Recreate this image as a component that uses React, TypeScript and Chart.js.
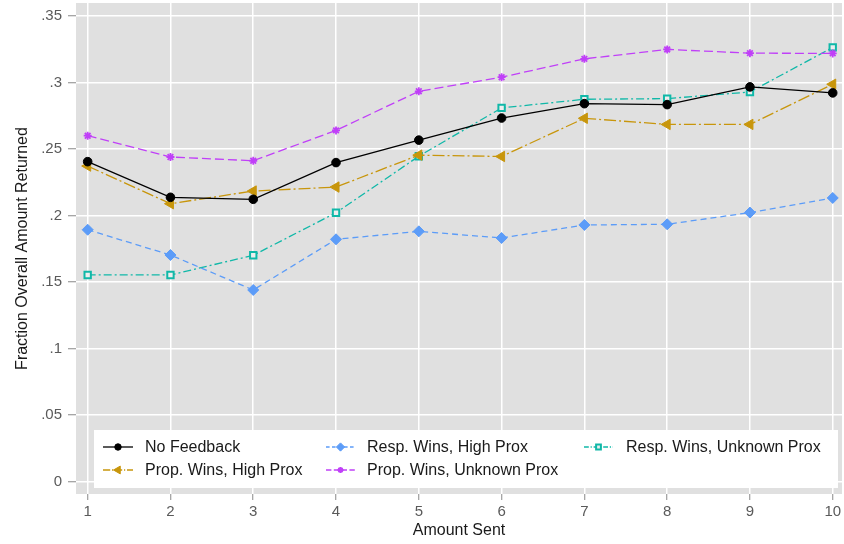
import React, { useEffect, useRef } from "react";
import { Chart, registerables } from "chart.js";
import { drawPoint } from "chart.js/helpers";

Chart.register(...registerables);

const amountSent = [1, 2, 3, 4, 5, 6, 7, 8, 9, 10];
const noFeedback = [0.2405, 0.2137, 0.2122, 0.2398, 0.2567, 0.2733, 0.2841, 0.2834, 0.2967, 0.2922];
const propWinsHighProx = [0.2372, 0.2089, 0.2184, 0.2214, 0.2454, 0.2444, 0.2731, 0.2685, 0.2685, 0.2987];
const respWinsHighProx = [0.1893, 0.1703, 0.144, 0.1821, 0.1881, 0.1831, 0.1929, 0.1934, 0.2022, 0.2132];
const propWinsUnknownProx = [0.26, 0.244, 0.2412, 0.264, 0.2934, 0.304, 0.3178, 0.3249, 0.3221, 0.3219];
const respWinsUnknownProx = [0.1553, 0.1553, 0.1701, 0.2021, 0.2446, 0.2809, 0.2874, 0.2879, 0.2929, 0.3264];

const seriesNames = [
  "No Feedback",
  "Prop. Wins, High Prox",
  "Resp. Wins, High Prox",
  "Prop. Wins, Unknown Prox",
  "Resp. Wins, Unknown Prox",
];

const yTickValues = [0, 0.05, 0.1, 0.15, 0.2, 0.25, 0.3, 0.35];
const yTickLabels = ["0", ".05", ".1", ".15", ".2", ".25", ".3", ".35"];
const xTickValues = amountSent;
const xTickLabels = ["1", "2", "3", "4", "5", "6", "7", "8", "9", "10"];

const FONT = "'Liberation Sans', Arial, Helvetica, sans-serif";

const styles = [
  { color: "#000000", dash: [] as number[], pointStyle: "circle", radius: 4.3, rotation: 0, bg: "#000000", bw: 1 },
  { color: "#c8960c", dash: [12, 3, 2, 3], pointStyle: "triangle", radius: 6, rotation: -90, bg: "#c8960c", bw: 1 },
  { color: "#5c9cf8", dash: [6, 4], pointStyle: "rectRot", radius: 5.5, rotation: 0, bg: "#5c9cf8", bw: 1 },
  { color: "#c040f8", dash: [9, 4], pointStyle: "star", radius: 4, rotation: 0, bg: "#c040f8", bw: 1.8 },
  { color: "#10b8a8", dash: [8, 3, 2, 3], pointStyle: "rect", radius: 4.5, rotation: 0, bg: "#eeeeee", bw: 2 },
];

const seriesValues = [noFeedback, propWinsHighProx, respWinsHighProx, propWinsUnknownProx, respWinsUnknownProx];

const AREA = { left: 76, right: 842, top: 3, bottom: 494 };

const areaPlugin = {
  id: "fixArea",
  afterLayout(chart: any) {
    const { left, right, top, bottom } = AREA;
    chart.chartArea = { left, right, top, bottom, width: right - left, height: bottom - top };
    const x = chart.scales.x;
    const y = chart.scales.y;
    x.left = left; x.right = right; x.width = right - left;
    x.top = bottom; x.bottom = chart.height; x.height = chart.height - bottom;
    x.configure();
    y.left = 0; y.right = left; y.width = left;
    y.top = top; y.bottom = bottom; y.height = bottom - top;
    y.configure();
  },
};

const backgroundPlugin = {
  id: "bgPlot",
  beforeDraw(chart: any) {
    const { ctx, chartArea } = chart;
    ctx.save();
    ctx.fillStyle = "#ffffff";
    ctx.fillRect(0, 0, chart.width, chart.height);
    ctx.fillStyle = "#e0e0e0";
    ctx.fillRect(chartArea.left, chartArea.top, chartArea.right - chartArea.left, chartArea.bottom - chartArea.top);
    ctx.restore();
  },
};

const legendPlugin = {
  id: "gridLegend",
  afterDraw(chart: any) {
    const ctx = chart.ctx;
    ctx.save();
    ctx.fillStyle = "#ffffff";
    ctx.fillRect(94, 430, 744, 58);
    const cols = [
      { x0: 103, x1: 133, tx: 145 },
      { x0: 326, x1: 355, tx: 367 },
      { x0: 584, x1: 613, tx: 626 },
    ];
    const rows = [447, 470];
    seriesNames.forEach((name, i) => {
      const c = cols[Math.floor(i / 2)];
      const y = rows[i % 2];
      const s = styles[i];
      ctx.strokeStyle = s.color;
      ctx.lineWidth = 1.3;
      ctx.setLineDash(s.dash.map((d) => d * 0.6));
      ctx.beginPath();
      ctx.moveTo(c.x0, y);
      ctx.lineTo(c.x1, y);
      ctx.stroke();
      ctx.setLineDash([]);
      ctx.fillStyle = s.bg;
      ctx.strokeStyle = s.color;
      ctx.lineWidth = s.bw;
      drawPoint(ctx, { pointStyle: s.pointStyle as any, rotation: s.rotation, radius: s.radius * 0.75, borderWidth: s.bw }, (c.x0 + c.x1) / 2, y);
      ctx.fillStyle = "#1a1a1a";
      ctx.font = `16px ${FONT}`;
      ctx.textBaseline = "middle";
      ctx.textAlign = "left";
      ctx.fillText(name, c.tx, y + 0.5);
    });
    ctx.restore();
  },
};

export default function App() {
  const canvasRef = useRef<HTMLCanvasElement | null>(null);

  useEffect(() => {
    if (!canvasRef.current) return;
    const datasets = seriesNames.map((name, i) => {
      const s = styles[i];
      return {
        label: name,
        data: amountSent.map((x, j) => ({ x, y: seriesValues[i][j] })),
        borderColor: s.color,
        backgroundColor: s.bg,
        borderWidth: 1.3,
        borderDash: s.dash,
        pointStyle: s.pointStyle as any,
        pointRotation: s.rotation,
        pointRadius: s.radius,
        pointBorderWidth: s.bw,
        pointBorderColor: s.color,
        pointBackgroundColor: s.bg,
        tension: 0,
        fill: false,
      };
    });

    const chart = new Chart(canvasRef.current, {
      type: "line",
      data: { datasets },
      options: {
        animation: false,
        responsive: false,
        maintainAspectRatio: false,
        layout: { padding: { top: 3, right: 2, left: 0, bottom: 0 } },
        plugins: {
          legend: { display: false },
          tooltip: { enabled: false },
        },
        scales: {
          x: {
            type: "linear",
            min: 0.859,
            max: 10.112,
            afterFit(scale: any) {
              scale.height = 50;
              scale.paddingLeft = 0;
              scale.paddingRight = 0;
            },
            afterBuildTicks(scale: any) {
              scale.ticks = xTickValues.map((v) => ({ value: v }));
            },
            ticks: {
              color: "#5a5a5a",
              font: { family: FONT, size: 15 },
              padding: 3,
              maxRotation: 0,
              autoSkip: false,
              callback: (v: any) => {
                const k = xTickValues.indexOf(Number(v));
                return k >= 0 ? xTickLabels[k] : "";
              },
            },
            grid: {
              color: "#ffffff",
              lineWidth: 1.5,
              tickColor: "#888888",
              tickWidth: 1,
              tickLength: 6,
            },
            border: { display: false },
            title: {
              display: true,
              text: "Amount Sent",
              color: "#1a1a1a",
              font: { family: FONT, size: 16 },
              padding: { top: 0, bottom: 4 },
            },
          },
          y: {
            type: "linear",
            min: -0.0094,
            max: 0.3598,
            afterFit(scale: any) {
              scale.width = 76;
              scale.paddingTop = 0;
              scale.paddingBottom = 0;
            },
            afterBuildTicks(scale: any) {
              scale.ticks = yTickValues.map((v) => ({ value: v }));
            },
            ticks: {
              color: "#5a5a5a",
              font: { family: FONT, size: 15 },
              padding: 6,
              autoSkip: false,
              callback: (v: any) => {
                const k = yTickValues.findIndex((t) => Math.abs(t - Number(v)) < 1e-9);
                return k >= 0 ? yTickLabels[k] : "";
              },
            },
            grid: {
              color: "#ffffff",
              lineWidth: 1.5,
              tickColor: "#888888",
              tickWidth: 1,
              tickLength: 8,
            },
            border: { display: false },
            title: {
              display: true,
              text: "Fraction Overall Amount Returned",
              color: "#1a1a1a",
              font: { family: FONT, size: 16 },
              padding: { top: 13, bottom: 0 },
            },
          },
        },
      },
      plugins: [areaPlugin, backgroundPlugin, legendPlugin],
    });
    return () => chart.destroy();
  }, []);

  return (
    <div style={{ position: "fixed", left: 0, top: 0, width: 844, height: 544 }}>
      <canvas ref={canvasRef} width={844} height={544} style={{ width: 844, height: 544, display: "block" }} />
    </div>
  );
}
